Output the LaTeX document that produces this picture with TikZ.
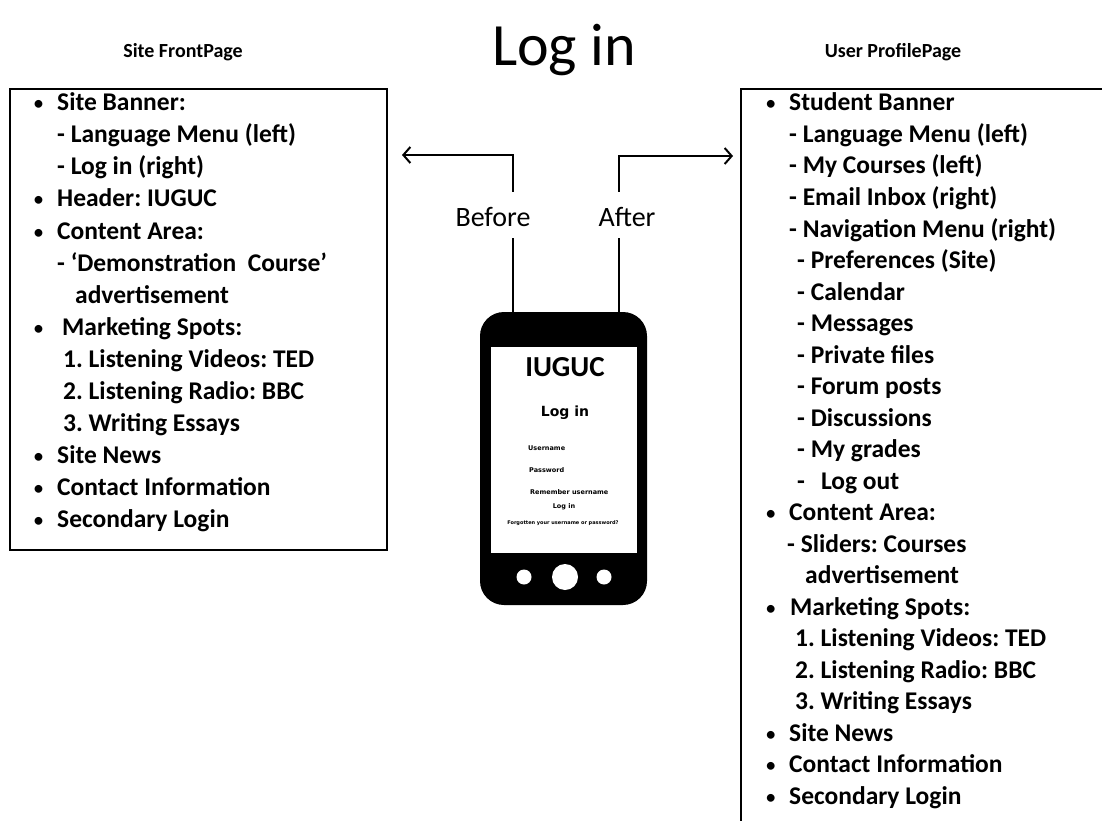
\documentclass[tikz,border=0pt]{standalone}
\usepackage{fontspec}
\setmainfont{Carlito}
\newfontfamily\dejavu{DejaVu Sans}
\usetikzlibrary{arrows.meta}
\newcommand\bul{\llap{{\mdseries\fontsize{22}{24}\selectfont\textbullet}\hspace{13pt}}}
\begin{document}
\frenchspacing
\begin{tikzpicture}[x=1pt,y=-1pt,
  body/.style={anchor=base west, inner sep=0pt, font=\fontsize{25.5}{30}\selectfont\bfseries},
  head/.style={font=\fontsize{20}{24}\selectfont\bfseries, inner sep=0pt},
  conn/.style={line width=2pt},
  arr/.style={conn,-{Straight Barb[length=7pt,width=16pt,line width=2pt]}},
  frame/.style={line width=1.5pt},
  tiny/.style={font=\dejavu\bfseries\fontsize{6.5}{7}\selectfont, inner sep=0pt},
  btn/.style={circle, fill=white, inner sep=0pt}]
\useasboundingbox (0,0) rectangle (1102,821);
\fill[white] (0,0) rectangle (1102,821);

% titles
\node[font=\fontsize{60}{60}\selectfont, inner sep=0pt] (title) at (564,50) {Log in};
\node[head] (hl) at (183,52) {Site FrontPage};
\node[head] (hr) at (893,52) {User ProfilePage};

% boxes
\draw[frame] (10,89) rectangle (387,550);
\draw[frame] (1102,89) -- (741,89) -- (741,821);

% left box text
\foreach \dx/\t [count=\i from 0] in {
 0/\bul Site Banner:,
 0/- Language Menu (left),
 0/- Log in (right),
 0/\bul Header: IUGUC,
 0/\bul Content Area:,
 0/- ‘Demonstration\ \ Course’,
 18/advertisement,
 0/\bul\hspace{5pt}Marketing Spots:,
 6/1. Listening Videos: TED,
 6/2. Listening Radio: BBC,
 6/3. Writing Essays,
 0/\bul Site News,
 0/\bul Contact Information,
 0/\bul Secondary Login}
 \node[body] (L\i) at (57+\dx,111+\i*32) {\t};

% right box text
\foreach \dx/\t [count=\i from 0] in {
 0/\bul Student Banner,
 0/- Language Menu (left),
 0/- My Courses (left),
 0/- Email Inbox (right),
 0/- Navigation Menu (right),
 8/- Preferences (Site),
 8/- Calendar,
 8/- Messages,
 8/- Private files,
 8/- Forum posts,
 8/- Discussions,
 8/- My grades,
 8/-\hspace{16pt}Log out,
 0/\bul Content Area:,
 -2/- Sliders: Courses,
 16/advertisement,
 0/\bul\hspace{1pt}Marketing Spots:,
 6/1. Listening Videos: TED,
 6/2. Listening Radio: BBC,
 6/3. Writing Essays,
 0/\bul Site News,
 0/\bul Contact Information,
 0/\bul Secondary Login}
 \node[body] (R\i) at (789+\dx,111+\i*31.5) {\t};

% phone
\node[fill=black, rounded corners=24pt, minimum width=167pt, minimum height=293pt, inner sep=0pt] (phone) at (563.5,458.5) {};
\node[fill=white, minimum width=146pt, minimum height=206pt, inner sep=0pt] (screen) at (564,450) {};
\node[btn, minimum size=15pt] (b1) at (524,577) {};
\node[btn, minimum size=26pt] (b2) at (565,577) {};
\node[btn, minimum size=15pt] (b3) at (604,577) {};
\node[font=\fontsize{29}{30}\selectfont\bfseries, inner sep=0pt] (iuguc) at (565,367) {IUGUC};
\node[font=\dejavu\bfseries\fontsize{14}{15}\selectfont, inner sep=0pt] (slog) at (565,413) {Log in};
\node[tiny, anchor=west] (su) at (528,448) {Username};
\node[tiny, anchor=west] (sp) at (529,470) {Password};
\node[tiny, anchor=west] (sr) at (530,492) {Remember username};
\node[tiny] (sl) at (564,507) {Log in};
\node[tiny, font=\dejavu\bfseries\fontsize{5}{6}\selectfont] (sf) at (563,523) {Forgotten your username or password?};

% before / after
\node[font=\fontsize{28}{30}\selectfont, inner sep=0pt] (before) at (493,217) {Before};
\node[font=\fontsize{28}{30}\selectfont, inner sep=0pt] (after) at (627,217) {After};
\coordinate (bup) at (513,192);
\coordinate (ltip) at (402,155);
\coordinate (aup) at (619,192);
\coordinate (rtip) at (733,156);
\coordinate (bdn) at (513,238);
\coordinate (adn) at (619,238);
\draw[arr] (bup) |- (ltip);
\draw[arr] (aup) |- (rtip);
\draw[conn] (bdn) -- (bdn |- phone.north);
\draw[conn] (adn) -- (adn |- phone.north);
\end{tikzpicture}
\end{document}
